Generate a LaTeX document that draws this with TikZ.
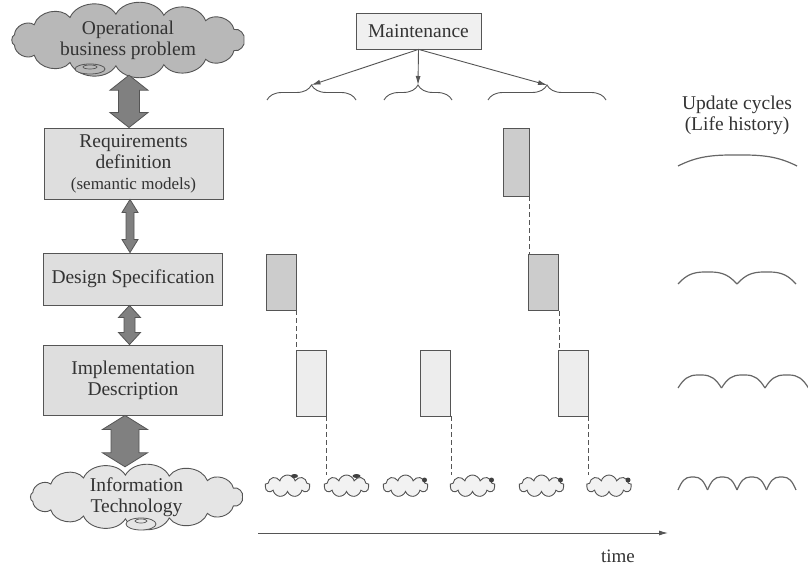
\documentclass[tikz,border=0pt]{standalone}
\usepackage{fontspec}
\setmainfont{Liberation Serif}
\usetikzlibrary{shapes.symbols,decorations.pathreplacing,arrows.meta,calc}

\definecolor{ink}{HTML}{333333}
\definecolor{edge}{HTML}{555555}

% double-headed block arrow between two nodes
% #1 upper node, #2 lower node, #3 head half width, #4 shaft half width, #5 head length, #6 x offset
\newcommand\dblarrow[6]{%
  \filldraw[bigarrow] let \p1=($(#1.south)+(#6,0)$), \p2=(#2.north) in
    (\x1,\y1) -- (\x1+#3,\y1-#5) -- (\x1+#4,\y1-#5) -- (\x1+#4,\y2+#5)
    -- (\x1+#3,\y2+#5) -- (\x1,\y2) -- (\x1-#3,\y2+#5) -- (\x1-#4,\y2+#5)
    -- (\x1-#4,\y1-#5) -- (\x1-#3,\y1-#5) -- cycle;}

% puffy cloud outline: #1 style, #2 centre x, #3 centre y, #4 x radius, #5 y radius, #6 puffs
\newcommand\puffcloud[6]{%
  \filldraw[#1] (#2+#4,#3)
    \foreach \k in {1,...,#6}{ to[bend left=62] ({#2+#4*cos(\k*360/#6)},{#3+#5*sin(\k*360/#6)}) }
    -- cycle;}

% row of update cycles: #1 start x, #2 cycle width, #3 count, #4 base y, #5 top y
\newcommand\cyclerow[5]{%
  \foreach \k in {1,...,#3}{%
    \pgfmathsetmacro\xa{#1+(\k-1)*#2}%
    \pgfmathsetmacro\xb{\xa+#2}%
    \pgfmathsetmacro\ym{#4-0.7*(#4-#5)}%
    \draw[cycline] (\xa,#4) .. controls (\xa+0.13*#2,\ym) and (\xa+0.24*#2,#5) .. (\xa+0.45*#2,#5)
      -- (\xb-0.45*#2,#5) .. controls (\xb-0.24*#2,#5) and (\xb-0.13*#2,\ym) .. (\xb,#4);}}

\begin{document}
\begin{tikzpicture}[x=1pt,y=-1pt,
  txt/.style={font=\fontsize{19.5}{21}\selectfont, text=ink, align=center},
  stage/.style={draw=edge, fill=black!13, line width=0.9pt, minimum width=179pt,
    inner sep=0pt, txt},
  bar/.style={draw=edge, line width=0.9pt, inner sep=0pt, minimum width=30pt},
  darkbar/.style={bar, fill=black!20},
  lightbar/.style={bar, fill=black!7},
  bigarrow/.style={fill=black!50, draw=edge, line width=0.8pt},
  dashline/.style={draw=edge, line width=0.8pt, dash pattern=on 5pt off 3pt},
  cycline/.style={draw=black!60, line width=1.2pt},
  bracestyle/.style={draw=edge, line width=0.9pt,
    decorate, decoration={brace, amplitude=15pt}},
  pointer/.style={draw=edge, line width=0.9pt, -{Latex[length=9pt,width=5pt]}},
  cloudline/.style={draw=edge, line width=0.9pt},
  cloudtext/.style={txt, inner sep=0pt},
  smallcloud/.style={cloud, cloud puffs=9, cloud ignores aspect, draw=edge,
    line width=0.9pt, fill=black!5, minimum width=45pt, minimum height=22pt,
    inner sep=0pt}
]
\useasboundingbox (0,0) rectangle (808,569);

% ---- left column: levels of description ----
\puffcloud{cloudline, fill=black!28}{128}{40}{116}{26}{15}
\filldraw[fill=black!28, draw=edge, line width=0.8pt] (90,69) ellipse (15 and 5);
\draw[edge, line width=0.7pt] (90,67) ellipse (7 and 2);
\node[cloudtext, minimum width=240pt, minimum height=70pt] (prob) at (128,40)
  {Operational\\business problem};

\node[stage, minimum height=71pt] (req) at (133.5,163.5)
  {Requirements\\definition\\{\fontsize{17}{19}\selectfont(semantic models)}};
\node[stage, minimum height=52pt] (des) at (133,279) {Design Specification};
\node[stage, minimum height=70pt] (impl) at (133,380) {Implementation\\Description};

\puffcloud{cloudline, fill=black!10}{136.5}{497}{106}{22}{15}
\filldraw[fill=black!10, draw=edge, line width=0.8pt] (141,524) ellipse (15 and 6);
\draw[edge, line width=0.7pt] (141,521) ellipse (6 and 2);
\node[cloudtext, minimum width=218pt, minimum height=60pt] (it) at (136.5,497)
  {Information\\Technology};

\dblarrow{prob}{req}{19}{10.5}{15}{1}
\dblarrow{req}{des}{8}{4}{13}{-3.5}
\dblarrow{des}{impl}{11}{5.5}{12}{-3.5}
\dblarrow{impl}{it}{22.5}{14}{14}{-8}

% ---- maintenance ----
\node[draw=edge, fill=black!6, line width=0.8pt, minimum width=125pt,
  minimum height=36pt, inner sep=0pt, txt] (mt) at (418.5,31) {Maintenance};

\draw[bracestyle] (267,100) -- (356,100);
\draw[bracestyle] (384,100) -- (452,100);
\draw[bracestyle] (488,100) -- (606,100);
\coordinate (tipA) at (311.5,85);
\coordinate (tipB) at (418,85);
\coordinate (tipC) at (547,85);
\draw[pointer] (mt.south) -- (tipA);
\draw[pointer] (mt.south) -- (tipB);
\draw[pointer] (mt.south) -- (tipC);

% ---- activity bars ----
\node[darkbar, minimum width=26pt, minimum height=68pt] (rbar) at (516,162) {};
\node[darkbar, minimum height=56pt] (dL) at (281,282) {};
\node[darkbar, minimum height=56pt] (dR) at (543.5,282.5) {};
\node[lightbar, minimum height=66pt] (iL) at (311,383) {};
\node[lightbar, minimum height=66pt] (iM) at (435.5,383) {};
\node[lightbar, minimum height=66pt] (iR) at (573,383) {};

% ---- small technology clouds ----
\foreach \n/\x in {1/287.5, 2/346.5, 3/405.5, 4/472.5, 5/541.5, 6/609}
  \node[smallcloud] (c\n) at (\x,486) {};
\fill[black!75] ($(c1.center)+(7,-10)$) ellipse (3.5 and 2);
\fill[black!75] ($(c2.center)+(10,-10)$) ellipse (4 and 2);
\foreach \n in {3,4,5,6}
  \fill[black!75] ($(c\n.center)+(19,-6)$) ellipse (2.5 and 2.5);

% ---- dashed links ----
\draw[dashline] (rbar.south east) -- (rbar.south east |- dR.north);
\draw[dashline] (dL.south east) -- (dL.south east |- iL.north);
\draw[dashline] (dR.south east) -- (dR.south east |- iR.north);
\draw[dashline] (iL.south east) -- (iL.south east |- c2.north);
\draw[dashline] (iM.south east) -- (iM.south east |- c4.north);
\draw[dashline] (iR.south east) -- (iR.south east |- c6.north);

% ---- time axis ----
\coordinate (tstart) at (258,533);
\coordinate (tend) at (668,533);
\draw[pointer] (tstart) -- (tend);
\node[txt, font=\fontsize{19}{21}\selectfont] (time) at (618,556) {time};

% ---- update cycles ----
\node[txt] (life) at (737,115) {Update cycles\\(Life history)};
\cyclerow{678}{119}{1}{166}{155}
\cyclerow{678}{59}{2}{284}{272}
\cyclerow{678}{43.5}{3}{388}{375}
\cyclerow{678}{29.5}{4}{490}{477}
\end{tikzpicture}
\end{document}
